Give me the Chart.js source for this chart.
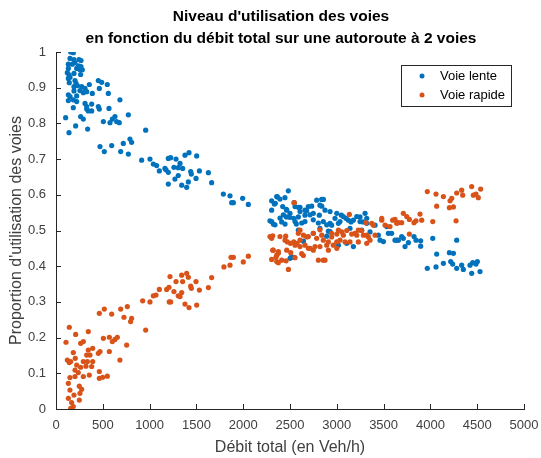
<!DOCTYPE html>
<html><head><meta charset="utf-8">
<script src="https://cdn.jsdelivr.net/npm/chart.js@4.4.0/dist/chart.umd.min.js"></script>
<style>html,body{margin:0;padding:0;background:#fff}#wrap{width:541px;height:458px}</style>
</head><body><div id="wrap"><canvas id="c" width="541" height="458"></canvas></div>
<script>
const titleLines = ["Niveau d'utilisation des voies", "en fonction du débit total sur une autoroute à 2 voies"];
const xLabel = "Débit total (en Veh/h)";
const yLabel = "Proportion d'utilisation des voies";
const seriesNames = ["Voie lente", "Voie rapide"];
const xTicks = [0, 500, 1000, 1500, 2000, 2500, 3000, 3500, 4000, 4500, 5000];
const yTicks = [0, 0.1, 0.2, 0.3, 0.4, 0.5, 0.6, 0.7, 0.8, 0.9, 1];

const voieLente = [
[157,1.0],[185,0.998],[150,0.982],[192,0.979],[246,0.979],[267,0.976],[203,0.97],[132,0.966],[174,0.966],[239,0.961],[267,0.959],[132,0.954],[221,0.954],[256,0.95],[281,0.95],[121,0.942],[139,0.936],[192,0.94],[263,0.937],[132,0.926],[150,0.929],[203,0.92],[142,0.914],[214,0.912],[192,0.903],[228,0.906],[274,0.903],[310,0.898],[356,0.909],[452,0.92],[488,0.915],[548,0.909],[192,0.891],[256,0.892],[292,0.886],[328,0.889],[388,0.884],[463,0.898],[559,0.884],[132,0.88],[150,0.875],[221,0.877],[132,0.864],[185,0.866],[221,0.861],[310,0.856],[328,0.847],[381,0.854],[452,0.847],[463,0.84],[566,0.842],[683,0.866],[185,0.844],[328,0.84],[345,0.835],[381,0.835],[103,0.816],[263,0.819],[292,0.812],[506,0.805],[577,0.802],[602,0.812],[630,0.819],[648,0.805],[676,0.802],[773,0.824],[210,0.793],[338,0.784],[139,0.774],[958,0.781],[470,0.735],[516,0.721],[595,0.738],[691,0.721],[719,0.744],[773,0.714],[790,0.756],[808,0.747],[915,0.697],[1004,0.7],[1040,0.686],[1075,0.682],[1164,0.674],[1200,0.702],[1225,0.704],[1282,0.7],[1306,0.676],
[1104,0.667],[1175,0.67],[1200,0.663],[1260,0.677],[1200,0.63],[1271,0.644],[1306,0.654],
[1325,0.688],[1353,0.674],[1378,0.711],[1421,0.718],[1503,0.709],[1439,0.665],[1446,0.658],[1532,0.667],[1628,0.662],[1496,0.646],[1414,0.636],[1343,0.627],[1396,0.621],[1663,0.634],[1788,0.602],[1859,0.597],[1877,0.578],[1895,0.578],[1994,0.59],[2055,0.573],
[2482,0.611],[2304,0.583],[2365,0.594],[2393,0.588],[2446,0.592],[2343,0.576],[2422,0.567],[2543,0.578],[2589,0.565],[2304,0.557],[2461,0.559],[2286,0.527],[2322,0.518],[2411,0.524],[2461,0.538],[2497,0.537],[2540,0.534],[2589,0.538],[2568,0.518],[2447,0.518],[2589,0.501],[2501,0.422],[2536,0.425],
[2358,0.595],[2333,0.574],[2554,0.567],[2465,0.557],[2500,0.548],[2429,0.544],[2393,0.535],[2304,0.525],[2340,0.516],[2607,0.553],[2660,0.557],[2696,0.567],[2785,0.585],[2838,0.587],[2820,0.571],[2874,0.557],[2714,0.544],[2749,0.53],[2803,0.521],[2892,0.516],[2554,0.525],[2625,0.521],[2643,0.47],[2511,0.425],[2892,0.484],[2910,0.498],
[2607,0.565],[2678,0.555],[2732,0.568],[2857,0.587],[2839,0.568],[2660,0.543],[2749,0.548],[2813,0.543],[2928,0.553],[3000,0.548],[3070,0.539],[2981,0.534],[2660,0.525],[2856,0.525],[2928,0.52],[3034,0.525],[3124,0.529],[3177,0.529],[3248,0.525],[3213,0.539],[3302,0.548],[3320,0.52],[3409,0.515],[3533,0.511],[3640,0.473],[3106,0.464],[2928,0.497],[2820,0.506],[2749,0.492],
[3049,0.543],[3098,0.534],[3152,0.524],[3248,0.538],[3280,0.524],[3320,0.534],[2945,0.515],[3017,0.52],[3141,0.506],[3266,0.501],[3355,0.496],[3444,0.487],[3462,0.473],[3498,0.469],[3551,0.492],[3177,0.455],[3017,0.459],
[3586,0.492],[3622,0.473],[3658,0.473],[3693,0.483],[3711,0.478],[3729,0.455],[3765,0.466],[3825,0.483],[3846,0.473],[3896,0.471],[3896,0.456],[4025,0.478],[4281,0.473],[4067,0.434],[4203,0.438],[4246,0.436],[3967,0.394],[4060,0.398],[4139,0.408],[4217,0.413],[4238,0.406],[4281,0.394],[4334,0.403],[4352,0.391],[4423,0.403],[4452,0.41],[4487,0.406],[4502,0.413],[4441,0.38],[4530,0.385]
];

const voieRapide = [
[157,0.002],[185,0.007],[167,0.018],[249,0.025],[132,0.03],[192,0.039],[256,0.044],[149,0.053],[274,0.055],[132,0.072],[249,0.064],[149,0.088],[203,0.091],[292,0.091],[238,0.102],[463,0.086],[498,0.089],[548,0.092],[463,0.105],[142,0.13],[121,0.137],[157,0.133],[203,0.109],[221,0.123],[263,0.117],[292,0.133],[320,0.12],[335,0.133],[356,0.095],[381,0.119],[392,0.133],[185,0.158],[206,0.142],[328,0.151],[345,0.165],[392,0.17],[363,0.151],[452,0.156],[470,0.161],[570,0.161],[683,0.137],[263,0.184],[292,0.189],[107,0.187],[210,0.209],[142,0.229],[345,0.217],[506,0.198],[570,0.201],[602,0.189],[630,0.195],[655,0.201],[755,0.179],[463,0.268],[516,0.28],[595,0.266],[691,0.28],[726,0.257],[762,0.287],[797,0.245],[808,0.254],[958,0.221],[926,0.303],[1004,0.3],[1040,0.317],[1068,0.319],[1104,0.335],[1182,0.335],[1207,0.341],[1260,0.329],[1210,0.3],[1225,0.3],[1306,0.317],[1282,0.357],
[1218,0.371],[1343,0.375],[1396,0.38],[1414,0.369],[1353,0.357],[1496,0.357],[1439,0.344],[1446,0.338],[1532,0.333],[1628,0.34],[1663,0.368],[1343,0.326],[1325,0.315],[1378,0.294],[1421,0.284],[1503,0.291],[1794,0.398],[1859,0.403],[1870,0.425],[1895,0.425],[2001,0.412],[2055,0.428],
[2304,0.478],[2315,0.485],[2454,0.484],[2472,0.468],[2504,0.464],[2540,0.468],[2575,0.464],[2315,0.445],[2358,0.431],[2350,0.425],[2304,0.419],[2375,0.41],[2458,0.415],[2508,0.438],[2483,0.391],[2375,0.436],[2546,0.578],
[2286,0.483],[2393,0.483],[2447,0.473],[2589,0.492],[2607,0.501],[2643,0.487],[2696,0.483],[2749,0.492],[2785,0.478],[2554,0.459],[2607,0.455],[2660,0.459],[2696,0.45],[2749,0.445],[2820,0.455],[2322,0.445],[2376,0.441],[2465,0.445],[2358,0.413],[2411,0.417],[2554,0.424],[2643,0.43],
[2607,0.473],[2678,0.482],[2839,0.487],[2856,0.473],[2892,0.459],[2945,0.482],[3000,0.49],[3053,0.496],[3106,0.5],[3159,0.49],[3213,0.487],[3266,0.5],[3320,0.487],[3355,0.473],[2714,0.45],[2767,0.455],[3000,0.468],[3034,0.473],[3141,0.468],[2625,0.435],[2803,0.417],[2856,0.417],[2820,0.502],[3134,0.545],[3312,0.522],[3391,0.515],[3480,0.529],[3597,0.529],[3640,0.52],
[3373,0.52],[3480,0.534],[3516,0.515],[2945,0.492],[3017,0.501],[3070,0.487],[3195,0.492],[3230,0.501],[3284,0.487],[3337,0.482],[3409,0.487],[2910,0.468],[2963,0.459],[3088,0.468],[3230,0.468],[3320,0.464],[2910,0.445],[3000,0.45],[2874,0.417],
[3967,0.609],[4060,0.602],[4139,0.595],[4228,0.59],[4210,0.583],[4281,0.605],[4334,0.613],[4345,0.599],[4441,0.623],[4459,0.599],[4487,0.602],[4512,0.592],[4537,0.616],[4067,0.568],[4203,0.564],[4246,0.566],[4025,0.525],[4274,0.527],[3622,0.531],[3658,0.522],[3711,0.548],[3747,0.539],[3775,0.531],[3825,0.522],[3846,0.527],[3889,0.546],[3907,0.529],[3693,0.522],[3568,0.511],[3775,0.49]
];

const colors = ["#0072BD", "#D95319"];
const FONT = "'Liberation Sans', Arial, sans-serif";
const AXIS = "#262626";
const TXT = "#404040";

const toPts = arr => arr.map(p => ({x: p[0], y: p[1]}));

const decor = {
  id: 'decor',
  afterDatasetsDraw(chart) {
    const ctx = chart.ctx, a = chart.chartArea;
    const xs = chart.scales.x, ys = chart.scales.y;
    ctx.save();
    ctx.strokeStyle = AXIS; ctx.lineWidth = 1;
    ctx.beginPath();
    xTicks.forEach(v => { const px = Math.round(xs.getPixelForValue(v)) + 0.5; ctx.moveTo(px, a.bottom); ctx.lineTo(px, a.bottom - 5); });
    yTicks.forEach(v => { const py = Math.round(ys.getPixelForValue(v)) + 0.5; ctx.moveTo(a.left, py); ctx.lineTo(a.left + 5, py); });
    ctx.stroke();
    // title
    ctx.fillStyle = "#000"; ctx.textAlign = "center"; ctx.textBaseline = "middle";
    ctx.font = "bold 15.5px " + FONT;
    ctx.fillText(titleLines[0], 281, 17);
    ctx.fillText(titleLines[1], 281, 39);
    // legend
    const bx = 401, by = 65, bw = 110, bh = 41;
    ctx.fillStyle = "#fff"; ctx.fillRect(bx, by, bw, bh);
    ctx.strokeStyle = AXIS; ctx.strokeRect(bx + 0.5, by + 0.5, bw, bh);
    ctx.font = "13px " + FONT; ctx.textAlign = "left";
    seriesNames.forEach((n, i) => {
      const y = by + 11 + i * 19;
      ctx.fillStyle = colors[i];
      ctx.beginPath(); ctx.arc(bx + 21, y, 2.5, 0, Math.PI * 2); ctx.fill();
      ctx.fillStyle = "#000"; ctx.fillText(n, bx + 39, y);
    });
    ctx.restore();
  }
};

new Chart(document.getElementById('c'), {
  type: 'scatter',
  data: {
    datasets: [
      {label: seriesNames[0], data: toPts(voieLente), backgroundColor: colors[0], borderWidth: 0, pointRadius: 2.6, order: 1},
      {label: seriesNames[1], data: toPts(voieRapide), backgroundColor: colors[1], borderWidth: 0, pointRadius: 2.6, order: 0}
    ]
  },
  options: {
    responsive: false, animation: false, devicePixelRatio: 1,
    layout: {padding: {top: 52, right: 17, left: 0, bottom: 0}},
    plugins: {legend: {display: false}, tooltip: {enabled: false}, title: {display: false}},
    scales: {
      x: {
        type: 'linear', min: 0, max: 5000,
        afterBuildTicks: s => { s.ticks = xTicks.map(v => ({value: v})); },
        afterFit: s => { s.height = 49; s.paddingLeft = 0; s.paddingRight = 0; },
        ticks: {color: TXT, font: {family: FONT, size: 13}, padding: 9, maxRotation: 0, callback: v => String(v)},
        grid: {drawOnChartArea: false, drawTicks: false},
        border: {color: AXIS},
        title: {display: true, text: xLabel, color: TXT, font: {family: FONT, size: 16}, padding: {top: 0, bottom: 1}}
      },
      y: {
        min: 0, max: 1,
        afterBuildTicks: s => { s.ticks = yTicks.map(v => ({value: v})); },
        afterFit: s => { s.width = 56; s.paddingTop = 0; s.paddingBottom = 0; },
        ticks: {color: TXT, font: {family: FONT, size: 13}, padding: 10, callback: v => String(Math.round(v * 10) / 10)},
        grid: {drawOnChartArea: false, drawTicks: false},
        border: {color: AXIS},
        title: {display: true, text: yLabel, color: TXT, font: {family: FONT, size: 16}, padding: {top: 7, bottom: 0}}
      }
    }
  },
  plugins: [decor]
});
</script></body></html>
